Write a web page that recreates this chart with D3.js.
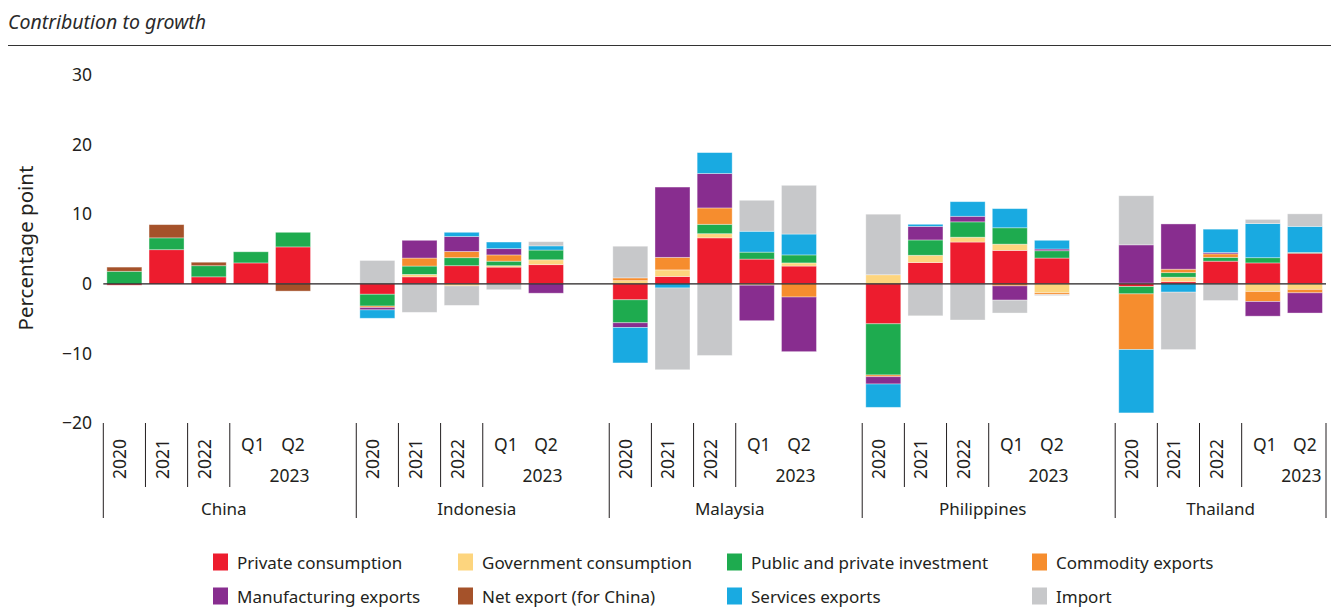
<!DOCTYPE html>
<html>
<head>
<meta charset="utf-8">
<script src="https://cdn.jsdelivr.net/npm/d3@7"></script>
<style>
  html, body { margin: 0; padding: 0; background: #fff; }
  svg { display: block; font-family: "Noto Sans", "Open Sans", sans-serif; }
</style>
</head>
<body>
<svg id="chart" width="1331" height="613"></svg>
<script>
// ---- Data ----
const countries = ["China", "Indonesia", "Malaysia", "Philippines", "Thailand"];
const periods = ["2020", "2021", "2022", "Q1", "Q2"];
const yearGroupLabel = "2023";
const yTicks = [30, 20, 10, 0, -10, -20];
const seriesNames = [
  "Private consumption", "Government consumption", "Public and private investment", "Commodity exports",
  "Manufacturing exports", "Net export (for China)", "Services exports", "Import"
];
const seriesColors = ["#ED1C2E", "#FDD57E", "#1EAB4F", "#F68D2E", "#882D8F", "#A5522A", "#19AAE1", "#C7C8CA"];

// values ordered: China(2020,2021,2022,Q1,Q2), Indonesia, Malaysia, Philippines, Thailand
const privateConsumption = [
  -0.2, 4.9, 1.0, 3.0, 5.3,
  -1.5, 1.0, 2.6, 2.4, 2.75,
  -2.3, 1.05, 6.6, 3.55, 2.55,
  -5.75, 3.05, 6.0, 4.8, 3.7,
  -0.4, 0.3, 3.25, 3.0, 4.4
];
const governmentConsumption = [
  0, 0, 0, 0, 0,
  0, 0.35, -0.3, 0.2, 0.7,
  0.45, 0.95, 0.6, -0.2, 0.45,
  1.3, 1.05, 0.7, 0.9, -1.3,
  0.1, 0.65, 0, -1.1, -0.8
];
const investment = [
  1.8, 1.7, 1.6, 1.6, 2.1,
  -1.7, 1.2, 1.15, 0.65, 1.4,
  -3.3, 0, 1.35, 1.0, 1.15,
  -7.35, 2.2, 2.2, 2.35, 1.05,
  -1.05, 0.65, 0.55, 0.75, 0.1
];
const commodityExports = [
  0, 0, 0, 0, 0,
  -0.2, 1.15, 0.9, 0.9, 0,
  0.4, 1.8, 2.35, 0, -1.9,
  -0.25, 0, 0, -0.3, -0.25,
  -8.0, 0.5, 0.5, -1.45, -0.5
];
const manufacturingExports = [
  0, 0, 0, 0, 0,
  -0.35, 2.55, 2.15, 0.9, -1.35,
  -0.67, 10.1, 4.95, -5.1, -7.85,
  -1.05, 1.95, 0.8, -2.05, 0.25,
  5.5, 6.5, 0.2, -2.1, -2.9
];
const netExportChina = [
  0.6, 1.9, 0.5, 0, -1.05,
  0, 0, 0, 0, 0,
  0, 0, 0, 0, 0,
  0, 0, 0, 0, 0,
  0, 0, 0, 0, 0
];
const servicesExports = [
  0, 0, 0, 0, 0,
  -1.2, 0, 0.6, 0.95, 0.6,
  -5.1, -0.6, 3.0, 3.0, 3.0,
  -3.35, 0.3, 2.1, 2.75, 1.25,
  -9.1, -1.2, 3.35, 4.9, 3.75
];
const imports = [
  0, 0, 0, 0, 0,
  3.35, -4.1, -2.8, -0.85, 0.6,
  4.55, -11.75, -10.3, 4.45, 7.0,
  8.7, -4.6, -5.2, -1.85, -0.15,
  7.05, -8.25, -2.4, 0.6, 1.8
];
const seriesValues = [privateConsumption, governmentConsumption, investment, commodityExports,
  manufacturingExports, netExportChina, servicesExports, imports];

// ---- Build table ----
const rows = [];
countries.forEach((c, ci) => periods.forEach((p, pi) => {
  const r = { key: c + "|" + p, country: c, period: p };
  seriesNames.forEach((s, si) => { r[s] = seriesValues[si][ci * periods.length + pi]; });
  rows.push(r);
}));

const slots = [];
countries.forEach((c, ci) => {
  periods.forEach(p => slots.push(c + "|" + p));
  if (ci < countries.length - 1) slots.push("gap" + ci);
});

// ---- Scales ----
const svg = d3.select("#chart");
const textColor = "#231f20";
const pIn = 0.17, pOut = 0.085;
const x = d3.scaleBand().domain(slots).range([103.3, 1326]).paddingInner(pIn).paddingOuter(pOut);
const y = d3.scaleLinear().domain([-20, 30]).range([423, 75]);
const color = d3.scaleOrdinal().domain(seriesNames).range(seriesColors);
const half = x.step() * pIn / 2;

// ---- Title ----
svg.append("text").attr("x", 8).attr("y", 29)
  .attr("font-style", "italic").attr("font-size", 19.5).attr("fill", "#2a2a2a")
  .text("Contribution to growth");
svg.append("line").attr("x1", 8).attr("x2", 1331).attr("y1", 45.5).attr("y2", 45.5)
  .attr("stroke", "#333").attr("stroke-width", 1.2);

// ---- Y axis ----
const yAxis = d3.axisLeft(y).tickValues(yTicks).tickSize(0).tickPadding(0)
  .tickFormat(d => d < 0 ? "\u2212" + Math.abs(d) : d);
const yg = svg.append("g").attr("transform", "translate(92,0)").call(yAxis);
yg.select(".domain").remove();
yg.selectAll("text").attr("font-size", 17.5).attr("fill", textColor)
  .attr("font-family", "Noto Sans, sans-serif");

svg.append("text")
  .attr("transform", "translate(33,248) rotate(-90)")
  .attr("text-anchor", "middle").attr("font-size", 20.5).attr("fill", textColor)
  .text("Percentage point");

// ---- Bars ----
const stack = d3.stack().keys(seriesNames).offset(d3.stackOffsetDiverging);
const stacked = stack(rows);

svg.append("g").selectAll("g").data(stacked).join("g")
  .attr("fill", d => color(d.key))
  .selectAll("rect").data(d => d).join("rect")
  .attr("x", d => x(d.data.key))
  .attr("width", x.bandwidth())
  .attr("y", d => y(Math.max(d[0], d[1])))
  .attr("height", d => Math.abs(y(d[0]) - y(d[1])))
  .attr("stroke", "#ffffff").attr("stroke-opacity", 0.45).attr("stroke-width", 0.8);

// zero line
svg.append("line").attr("x1", 103.3).attr("x2", 1326)
  .attr("y1", y(0)).attr("y2", y(0)).attr("stroke", "#231f20").attr("stroke-width", 1.3);

// ---- Category axis ----
const axisG = svg.append("g");
const lineColor = "#231f20";
countries.forEach((c, ci) => {
  const gStart = x(c + "|" + periods[0]) - half;
  const gEnd = ci < countries.length - 1 ? x(countries[ci + 1] + "|" + periods[0]) - half
                                         : x(c + "|" + periods[periods.length - 1]) + x.bandwidth() + half;
  axisG.append("line").attr("x1", gStart).attr("x2", gStart).attr("y1", 423).attr("y2", 518)
    .attr("stroke", lineColor).attr("stroke-width", 1);
  if (ci === countries.length - 1) {
    axisG.append("line").attr("x1", gEnd).attr("x2", gEnd).attr("y1", 423).attr("y2", 518)
      .attr("stroke", lineColor).attr("stroke-width", 1);
  }
  // short separators after 2020, 2021, 2022
  [1, 2, 3].forEach(pi => {
    const xs = x(c + "|" + periods[pi]) - half;
    axisG.append("line").attr("x1", xs).attr("x2", xs).attr("y1", 423).attr("y2", 487)
      .attr("stroke", lineColor).attr("stroke-width", 1);
  });
  periods.forEach((p, pi) => {
    const cx = x(c + "|" + p) + x.bandwidth() / 2;
    if (pi < 3) {
      axisG.append("text")
        .attr("transform", `translate(${cx + 2},459) rotate(-90)`)
        .attr("text-anchor", "middle").attr("font-size", 17.5).attr("fill", textColor)
        .text(p);
    } else {
      axisG.append("text").attr("x", cx + (pi === 3 ? 2 : 0)).attr("y", 451)
        .attr("text-anchor", "middle").attr("font-size", 17.5).attr("fill", textColor)
        .text(p);
    }
  });
  const q2 = x(c + "|" + periods[4]) + x.bandwidth();
  axisG.append("text").attr("x", q2 - 1).attr("y", 482)
    .attr("text-anchor", "end").attr("font-size", 17.5).attr("fill", textColor)
    .text(yearGroupLabel);
  const labelCenter = ci < countries.length - 1 ? (gStart + gEnd) / 2 - 6 : (gStart + gEnd) / 2;
  axisG.append("text").attr("x", labelCenter).attr("y", 515)
    .attr("text-anchor", "middle").attr("font-size", 17).attr("fill", textColor)
    .text(c);
});

// ---- Legend ----
const legendCols = [213, 458, 727, 1032];
const legendRows = [562, 596];
const lg = svg.append("g");
seriesNames.forEach((s, i) => {
  const lx = legendCols[i % 4], ly = legendRows[Math.floor(i / 4)];
  lg.append("rect").attr("x", lx).attr("y", ly - 8.5).attr("width", 15).attr("height", 17)
    .attr("fill", color(s));
  lg.append("text").attr("x", lx + 24).attr("y", ly).attr("dominant-baseline", "central")
    .attr("font-size", 17).attr("fill", textColor).text(s);
});
</script>
</body>
</html>
